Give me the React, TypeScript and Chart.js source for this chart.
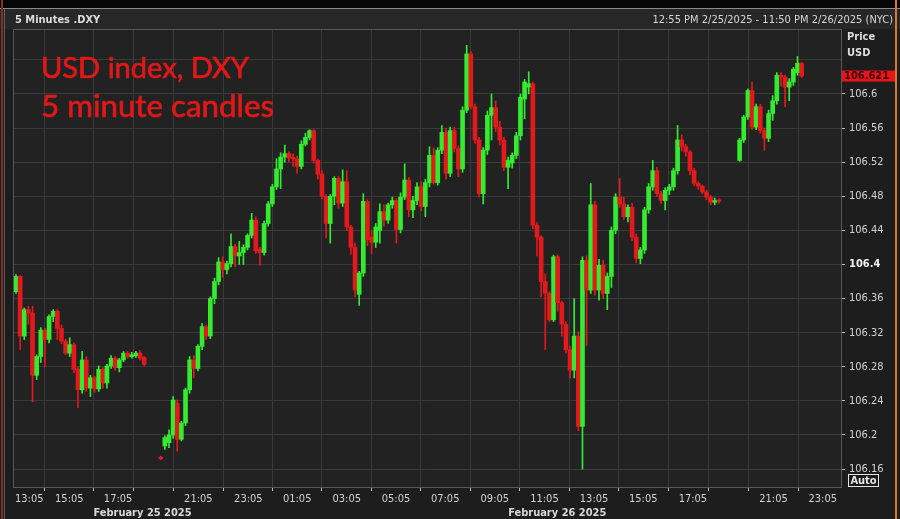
import React, { useEffect, useRef } from "react";
import { Chart, registerables } from "chart.js";

Chart.register(...registerables);

// ---- DATA (10-minute slots, index = slot; null = no trading shown) ----
const opens: (number | null)[] = [
  106.368, 106.386, 106.316, 106.347, 106.343, 106.270, 106.292, 106.323, 106.312, 106.339,
  106.345, 106.325, 106.310, 106.296, 106.306, 106.277, 106.253, 106.288, 106.255, 106.267,
  106.254, 106.277, 106.261, 106.281, 106.290, 106.279, 106.288, 106.296, 106.292, 106.293,
  106.296, 106.291, null, null, null, 106.174, 106.187, 106.191, 106.200, 106.237,
  106.195, 106.214, 106.253, 106.288, 106.278, 106.304, 106.327, 106.316, 106.360, 106.380,
  106.403, 106.394, 106.401, 106.421, 106.410, 106.414, 106.420, 106.434, 106.452, 106.418,
  106.414, 106.448, 106.471, 106.491, 106.512, 106.526, 106.530, 106.525, 106.524, 106.515,
  106.541, 106.549, 106.557, 106.522, 106.506, 106.480, 106.448, 106.480, 106.501, 106.472,
  106.497, 106.444, 106.420, 106.365, 106.390, 106.474, 106.432, 106.426, 106.440, 106.462,
  106.452, 106.470, 106.475, 106.441, 106.479, 106.499, 106.464, 106.475, 106.491, 106.468,
  106.496, 106.528, 106.496, 106.534, 106.555, 106.507, 106.557, 106.536, 106.512, 106.581,
  106.647, 106.585, 106.546, 106.483, 106.534, 106.575, 106.584, 106.561, 106.546, 106.514,
  106.519, 106.528, 106.551, 106.594, 106.608, 106.612, 106.446, 106.432, 106.380, 106.366,
  106.335, 106.409, 106.355, 106.330, 106.300, 106.276, 106.316, 106.210, 106.405, 106.370,
  106.470, 106.370, 106.399, 106.366, 106.386, 106.440, 106.479, 106.471, 106.456, 106.467,
  106.432, 106.407, 106.417, 106.464, 106.491, 106.510, 106.483, 106.475, 106.487, 106.491,
  106.510, 106.546, 106.538, 106.532, 106.510, 106.495, 106.492, 106.485, 106.479, 106.473,
  106.475, null, null, null, null, 106.522, 106.546, 106.573, 106.604, 106.561,
  106.585, 106.557, 106.548, 106.577, 106.592, 106.622, 106.620, 106.608, 106.614, 106.625,
  106.636,
];
const highs: (number | null)[] = [
  106.388, 106.387, 106.349, 106.351, 106.351, 106.294, 106.326, 106.325, 106.341, 106.347,
  106.347, 106.329, 106.312, 106.314, 106.308, 106.280, 106.298, 106.292, 106.270, 106.269,
  106.281, 106.279, 106.283, 106.293, 106.292, 106.290, 106.298, 106.298, 106.297, 106.298,
  106.299, 106.292, null, null, null, 106.175, 106.199, 106.206, 106.245, 106.241,
  106.216, 106.255, 106.292, 106.293, 106.306, 106.331, 106.329, 106.362, 106.384, 106.408,
  106.409, 106.404, 106.436, 106.424, 106.427, 106.423, 106.436, 106.460, 106.456, 106.420,
  106.451, 106.474, 106.494, 106.524, 106.531, 106.540, 106.532, 106.530, 106.527, 106.545,
  106.554, 106.558, 106.558, 106.524, 106.510, 106.482, 106.482, 106.503, 106.503, 106.511,
  106.510, 106.446, 106.425, 106.392, 106.483, 106.476, 106.440, 106.448, 106.471, 106.470,
  106.472, 106.479, 106.477, 106.484, 106.518, 106.502, 106.480, 106.496, 106.497, 106.500,
  106.538, 106.537, 106.537, 106.563, 106.560, 106.561, 106.561, 106.539, 106.585, 106.657,
  106.650, 106.588, 106.549, 106.537, 106.580, 106.600, 106.592, 106.568, 106.549, 106.526,
  106.531, 106.555, 106.600, 106.617, 106.626, 106.614, 106.449, 106.434, 106.389, 106.368,
  106.411, 106.411, 106.357, 106.333, 106.304, 106.360, 106.321, 106.409, 106.410, 106.495,
  106.474, 106.406, 106.405, 106.390, 106.444, 106.483, 106.501, 106.479, 106.470, 106.472,
  106.436, 106.420, 106.467, 106.495, 106.522, 106.514, 106.486, 106.490, 106.494, 106.513,
  106.563, 106.552, 106.541, 106.534, 106.513, 106.497, 106.493, 106.487, 106.481, 106.478,
  106.477, null, null, null, null, 106.548, 106.575, 106.606, 106.614, 106.588,
  106.588, 106.560, 106.581, 106.598, 106.625, 106.625, 106.622, 106.618, 106.631, 106.644,
  106.637,
];
const lows: (number | null)[] = [
  106.366, 106.300, 106.312, 106.330, 106.239, 106.265, 106.285, 106.280, 106.308, 106.333,
  106.312, 106.307, 106.294, 106.292, 106.273, 106.232, 106.249, 106.251, 106.245, 106.250,
  106.251, 106.255, 106.255, 106.278, 106.276, 106.274, 106.286, 106.290, 106.290, 106.291,
  106.288, 106.281, null, null, null, 106.171, 106.183, 106.185, 106.196, 106.181,
  106.193, 106.211, 106.249, 106.267, 106.275, 106.300, 106.312, 106.313, 106.354, 106.376,
  106.385, 106.389, 106.397, 106.397, 106.400, 106.400, 106.417, 106.431, 106.413, 106.399,
  106.411, 106.445, 106.468, 106.488, 106.489, 106.520, 106.520, 106.515, 106.507, 106.512,
  106.539, 106.546, 106.519, 106.500, 106.477, 106.431, 106.425, 106.470, 106.466, 106.468,
  106.440, 106.412, 106.362, 106.352, 106.386, 106.422, 106.413, 106.420, 106.425, 106.445,
  106.448, 106.466, 106.425, 106.437, 106.476, 106.456, 106.455, 106.470, 106.463, 106.456,
  106.491, 106.494, 106.493, 106.530, 106.500, 106.503, 106.532, 106.503, 106.508, 106.578,
  106.582, 106.542, 106.479, 106.471, 106.529, 106.546, 106.556, 106.540, 106.510, 106.489,
  106.513, 106.524, 106.546, 106.571, 106.600, 106.442, 106.410, 106.362, 106.300, 106.333,
  106.333, 106.345, 106.316, 106.296, 106.267, 106.267, 106.205, 106.160, 106.305, 106.366,
  106.364, 106.358, 106.360, 106.347, 106.373, 106.436, 106.467, 106.453, 106.450, 106.428,
  106.402, 106.401, 106.413, 106.460, 106.487, 106.480, 106.471, 106.464, 106.482, 106.487,
  106.506, 106.533, 106.527, 106.505, 106.492, 106.488, 106.483, 106.476, 106.470, 106.470,
  106.472, null, null, null, null, 106.521, 106.543, 106.570, 106.558, 106.558,
  106.554, 106.534, 106.544, 106.569, 106.588, 106.609, 106.585, 106.592, 106.610, 106.622,
  106.619,
];
const closes: (number | null)[] = [
  106.386, 106.316, 106.347, 106.343, 106.270, 106.292, 106.323, 106.312, 106.339, 106.345,
  106.325, 106.310, 106.296, 106.306, 106.277, 106.253, 106.288, 106.255, 106.267, 106.254,
  106.277, 106.261, 106.281, 106.290, 106.279, 106.288, 106.296, 106.292, 106.294, 106.296,
  106.290, 106.283, null, null, null, 106.172, 106.197, 106.200, 106.241, 106.195,
  106.214, 106.253, 106.288, 106.278, 106.304, 106.327, 106.316, 106.360, 106.380, 106.403,
  106.394, 106.401, 106.421, 106.410, 106.414, 106.420, 106.434, 106.452, 106.416, 106.414,
  106.448, 106.471, 106.491, 106.512, 106.526, 106.530, 106.525, 106.524, 106.515, 106.541,
  106.549, 106.557, 106.522, 106.506, 106.480, 106.448, 106.480, 106.501, 106.472, 106.497,
  106.444, 106.420, 106.370, 106.390, 106.474, 106.429, 106.426, 106.444, 106.462, 106.452,
  106.470, 106.475, 106.441, 106.479, 106.499, 106.464, 106.475, 106.491, 106.468, 106.496,
  106.528, 106.496, 106.534, 106.555, 106.507, 106.557, 106.536, 106.512, 106.581, 106.647,
  106.585, 106.546, 106.483, 106.534, 106.575, 106.584, 106.561, 106.546, 106.514, 106.522,
  106.528, 106.551, 106.596, 106.614, 106.612, 106.446, 106.432, 106.380, 106.366, 106.335,
  106.409, 106.355, 106.330, 106.300, 106.276, 106.316, 106.210, 106.405, 106.370, 106.470,
  106.370, 106.399, 106.366, 106.386, 106.440, 106.479, 106.471, 106.456, 106.467, 106.432,
  106.407, 106.417, 106.464, 106.491, 106.510, 106.483, 106.475, 106.487, 106.491, 106.510,
  106.546, 106.538, 106.532, 106.510, 106.495, 106.492, 106.485, 106.479, 106.473, 106.475,
  106.474, null, null, null, null, 106.546, 106.573, 106.604, 106.561, 106.585,
  106.557, 106.548, 106.577, 106.592, 106.622, 106.620, 106.608, 106.614, 106.629, 106.636,
  106.621,
];

const timeTickPositions = [0.8, 12.9, 24.7, 32.2, 44.1, 56.2, 68.0, 80.0, 91.9, 103.8, 115.8, 127.8, 139.8, 151.7, 163.7, 171.1, 183.2, 195.1];
const timeTickLabels = ["13:05", "15:05", "17:05", "", "21:05", "23:05", "01:05", "03:05", "05:05", "07:05", "09:05", "11:05", "13:05", "15:05", "17:05", "", "21:05", "23:05"];
const dateLabels = ["February 25 2025", "February 26 2025"];
const dateLabelPositions = [30.6, 130.9];

const priceTicks = [106.16, 106.2, 106.24, 106.28, 106.32, 106.36, 106.4, 106.44, 106.48, 106.52, 106.56, 106.6, 106.64];
const priceTickLabels = ["106.16", "106.2", "106.24", "106.28", "106.32", "106.36", "106.4", "106.44", "106.48", "106.52", "106.56", "106.6", ""];
const boldPriceTick = 106.4;
const lastPrice = 106.621;

const chartTitle = "5 Minutes .DXY";
const rangeText = "12:55 PM 2/25/2025 - 11:50 PM 2/26/2025 (NYC)";
const noteLines = ["USD index, DXY", "5 minute candles"];
const axisTitleLines = ["Price", "USD"];

// ---- STYLE ----
const GREEN = "#33ec2f";
const RED = "#e3191c";
const UI_FONT = '"DejaVu Sans Condensed", "Liberation Sans", "DejaVu Sans", sans-serif';
const NOTE_FONT = 'Lato, "Open Sans", sans-serif';

const decor = {
  id: "decor",
  beforeDraw(chart: any) {
    const { ctx, chartArea: a, width, height } = chart;
    ctx.save();
    ctx.fillStyle = "#1d1d1d";
    ctx.fillRect(0, 0, width, height);
    ctx.fillStyle = "#060606";
    ctx.fillRect(0, 0, width, 8);
    ctx.fillStyle = "#272727";
    ctx.fillRect(0, 9, width, 20);
    ctx.fillStyle = "#8a8a8a";
    ctx.fillRect(0, 8, width, 1);
    ctx.fillStyle = "#222222";
    ctx.fillRect(a.left, a.top, a.right - a.left, a.bottom - a.top);
    ctx.restore();
  },
  afterDatasetsDraw(chart: any) {
    const { ctx, chartArea: a } = chart;
    ctx.save();
    // note text
    ctx.fillStyle = "#e01818";
    ctx.strokeStyle = "#e01818";
    ctx.lineWidth = 0.7;
    ctx.textBaseline = "alphabetic";
    ctx.textAlign = "left";
    const targets = [208, 233];
    const baselines = [78, 117];
    noteLines.forEach((t, i) => {
      let size = 28;
      ctx.font = `${size}px ${NOTE_FONT}`;
      const w = ctx.measureText(t).width;
      size = (size * targets[i]) / w;
      ctx.font = `${size.toFixed(2)}px ${NOTE_FONT}`;
      ctx.fillText(t, 41, baselines[i]);
      ctx.strokeText(t, 41, baselines[i]);
    });
    // plot frame
    ctx.strokeStyle = "#575757";
    ctx.lineWidth = 1;
    ctx.strokeRect(a.left - 0.5, a.top - 0.5, a.right - a.left + 1, a.bottom - a.top + 1);
    ctx.restore();
  },
  afterDraw(chart: any) {
    const { ctx, chartArea: a, scales, width } = chart;
    ctx.save();
    // header texts
    ctx.textBaseline = "middle";
    ctx.fillStyle = "#dcdcdc";
    ctx.font = `bold 11px ${UI_FONT}`;
    ctx.textAlign = "left";
    ctx.fillText(chartTitle, 15, 20);
    ctx.font = `11px ${UI_FONT}`;
    ctx.textAlign = "right";
    ctx.fillStyle = "#d6d6d6";
    ctx.fillText(rangeText, 893, 20);

    // time axis labels (first one kept inside the frame)
    ctx.font = `11px ${UI_FONT}`;
    ctx.fillStyle = "#d2d2d2";
    ctx.textAlign = "left";
    timeTickPositions.forEach((v, i) => {
      const t = timeTickLabels[i];
      if (!t) return;
      const w = ctx.measureText(t).width;
      const x = Math.max(a.left + 1, scales.x.getPixelForValue(v) - w / 2);
      ctx.fillText(t, x, 499);
    });

    // axis title
    ctx.textAlign = "left";
    ctx.font = `bold 11px ${UI_FONT}`;
    ctx.fillStyle = "#dedede";
    ctx.fillText(axisTitleLines[0], 847, 37.5);
    ctx.fillText(axisTitleLines[1], 847, 53);

    // last price box
    const py = scales.y.getPixelForValue(lastPrice);
    ctx.fillStyle = "#e8141c";
    ctx.fillRect(a.right + 1, py - 5.5, 54, 11);
    ctx.fillStyle = "#3a0000";
    ctx.font = `bold 11px ${UI_FONT}`;
    ctx.fillText(lastPrice.toFixed(3), a.right + 3, py + 0.5);

    // Auto box
    ctx.fillStyle = "#1a1a1a";
    ctx.fillRect(848, 474, 31, 13);
    ctx.strokeStyle = "#e6e6e6";
    ctx.lineWidth = 1;
    ctx.strokeRect(848.5, 474.5, 30, 12);
    ctx.fillStyle = "#e6e6e6";
    ctx.textAlign = "center";
    ctx.font = `bold 11px ${UI_FONT}`;
    ctx.fillText("Auto", 863.5, 481);

    // date labels
    ctx.fillStyle = "#d8d8d8";
    dateLabels.forEach((t, i) => {
      ctx.fillText(t, scales.x.getPixelForValue(dateLabelPositions[i]), 513);
    });

    // window borders
    ctx.fillStyle = "#7c3327";
    ctx.fillRect(1, 0, 2, chart.height);
    ctx.fillStyle = "#5e5e5e";
    ctx.fillRect(4, 9, 1, chart.height - 9);
    ctx.fillStyle = "#d07a36";
    ctx.fillRect(width - 5, 0, 2, chart.height);
    ctx.restore();
  },
};

export default function App() {
  const ref = useRef<HTMLCanvasElement | null>(null);

  useEffect(() => {
    document.body.style.margin = "0";
    const canvas = ref.current;
    if (!canvas) return;
    const bodies: any[] = [];
    const wicks: any[] = [];
    opens.forEach((o, i) => {
      const c = closes[i];
      const h = highs[i];
      const l = lows[i];
      if (o == null || c == null || h == null || l == null) return;
      const up = c >= o;
      bodies.push({ x: i, y: [o, c], up });
      wicks.push({ x: i, y: [l, h], up });
    });
    const colorOf = (ctx: any) => (ctx.raw && ctx.raw.up ? GREEN : RED);

    const chart = new Chart(canvas, {
      type: "bar",
      data: {
        datasets: [
          {
            label: "body",
            data: bodies,
            backgroundColor: colorOf,
            barThickness: 4,
            grouped: false,
            minBarLength: 1.5,
            borderWidth: 0,
            order: 0,
          } as any,
          {
            label: "wick",
            data: wicks,
            backgroundColor: colorOf,
            barThickness: 1,
            grouped: false,
            minBarLength: 1,
            borderWidth: 0,
            order: 1,
          } as any,
        ],
      },
      options: {
        responsive: false,
        animation: false,
        devicePixelRatio: 1,
        layout: { padding: { left: 14, top: 30, right: 0, bottom: 0 } },
        plugins: { legend: { display: false }, tooltip: { enabled: false } },
        scales: {
          x: {
            type: "linear",
            min: -0.48,
            max: 199.52,
            offset: false,
            afterBuildTicks: (scale: any) => {
              scale.ticks = timeTickPositions.map((v) => ({ value: v }));
            },
            afterFit: (scale: any) => {
              scale.height = 32;
            },
            ticks: {
              display: false,
              autoSkip: false,
              maxRotation: 0,
              minRotation: 0,
              callback: (_v: any, i: number) => timeTickLabels[i] ?? "",
            },
            grid: { color: "#3a3a3a", tickColor: "#bdbdbd", tickLength: 4, drawTicks: true },
            border: { display: true, color: "#575757" },
          },
          y: {
            type: "linear",
            position: "right",
            min: 106.139,
            max: 106.675,
            afterBuildTicks: (scale: any) => {
              scale.ticks = priceTicks.map((v) => ({ value: v }));
            },
            afterFit: (scale: any) => {
              scale.width = 59;
            },
            ticks: {
              padding: 4,
              color: (ctx: any) => (ctx.tick && ctx.tick.value === boldPriceTick ? "#f2f2f2" : "#d2d2d2"),
              font: (ctx: any) => ({
                family: UI_FONT,
                size: 11,
                weight: ctx.tick && ctx.tick.value === boldPriceTick ? "bold" : "normal",
              }),
              callback: (_v: any, i: number) => priceTickLabels[i] ?? "",
            },
            grid: {
              color: "#3a3a3a",
              tickColor: (ctx: any) => (ctx.index === priceTicks.length - 1 ? "rgba(0,0,0,0)" : "#bdbdbd"),
              tickLength: 4,
            },
            border: { display: true, color: "#575757" },
          },
        },
      } as any,
      plugins: [decor],
    });
    return () => chart.destroy();
  }, []);

  return (
    <div style={{ position: "fixed", left: 0, top: 0, width: 900, height: 519, background: "#1d1d1d" }}>
      <canvas ref={ref} width={900} height={519} style={{ display: "block" }} />
    </div>
  );
}
